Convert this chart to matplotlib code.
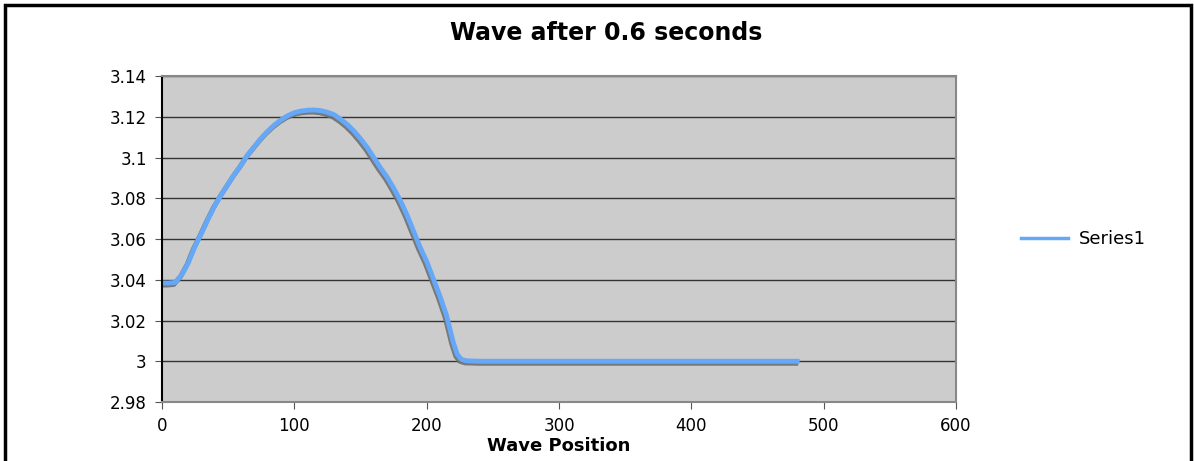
import matplotlib
matplotlib.use("Agg")
import matplotlib.pyplot as plt
import matplotlib.patheffects as pe
from matplotlib.patches import Rectangle

# Data
positions = [0, 5, 10, 15, 20, 25, 30, 35, 40, 45, 50, 55, 60, 65, 70, 75, 80, 85, 90, 95,
             100, 105, 110, 115, 120, 125, 130, 135, 140, 145, 150, 155, 160, 165, 170, 175,
             180, 185, 190, 195, 200, 205, 210, 215, 220, 223, 226, 230, 240, 300, 360, 420, 480]
values = [3.0384, 3.0384, 3.0387, 3.0425, 3.0485, 3.0565, 3.0630, 3.0700, 3.0765, 3.0820,
          3.0870, 3.0920, 3.0965, 3.1015, 3.1055, 3.1095, 3.1130, 3.1160, 3.1185, 3.1205,
          3.1220, 3.1228, 3.1232, 3.1233, 3.1230, 3.1222, 3.1210, 3.1188, 3.1162, 3.1130,
          3.1092, 3.1050, 3.1000, 3.0950, 3.0905, 3.0850, 3.0790, 3.0720, 3.0640, 3.0560,
          3.0490, 3.0405, 3.0320, 3.0225, 3.0095, 3.0035, 3.0010, 3.0002, 3.0, 3.0, 3.0, 3.0, 3.0]
series_name = "Series1"
title = "Wave after 0.6 seconds"
x_label = "Wave Position"
x_ticks = [0, 100, 200, 300, 400, 500, 600]
y_ticks = [2.98, 3.0, 3.02, 3.04, 3.06, 3.08, 3.1, 3.12, 3.14]
y_tick_labels = ["2.98", "3", "3.02", "3.04", "3.06", "3.08", "3.1", "3.12", "3.14"]

plt.rcParams['font.family'] = ['DejaVu Sans']

fig = plt.figure(figsize=(11.94, 4.61), dpi=100)
ax = fig.add_axes([162/1194, 1-402/461, (956-162)/1194, (402-76)/461])
ax.set_facecolor('#cccccc')

line, = ax.plot(positions, values, color='#66a8f8', lw=3.5, label=series_name,
                path_effects=[pe.SimpleLineShadow(offset=(-1, -1.5), shadow_color='#707070', alpha=0.9),
                              pe.Normal()])

ax.set_xlim(0, 600)
ax.set_ylim(2.98, 3.14)
ax.set_xticks(x_ticks)
ax.set_yticks(y_ticks)
ax.set_yticklabels(y_tick_labels)
ax.grid(axis='y', color='#333333', lw=1)
ax.set_axisbelow(True)
ax.tick_params(labelsize=12, length=5, color='#555555', pad=6)

for s in ['top', 'right']:
    ax.spines[s].set_color('#888888')
    ax.spines[s].set_linewidth(1.5)
ax.spines['left'].set_color('black')
ax.spines['left'].set_linewidth(1.5)
ax.spines['bottom'].set_color('#888888')
ax.spines['bottom'].set_linewidth(1.5)

ax.set_xlabel(x_label, fontsize=13, fontweight='bold', labelpad=1)
fig.text(606/1194, 1-33/461, title, fontsize=17, fontweight='bold', ha='center', va='center')

leg_handle = plt.Line2D([], [], color='#66a8f8', lw=2.5)
fig.legend([leg_handle], [series_name], loc='center left',
           bbox_to_anchor=(1005/1194, 1-239/461), frameon=False, fontsize=13,
           handlelength=2.6, handletextpad=0.6)

fig.add_artist(Rectangle((5/1194, -0.1), (1191-5)/1194, 1.1 - 5/461 + 0.0,
                         transform=fig.transFigure, fill=False, edgecolor='black', lw=2.5))

fig.savefig('out.png', dpi=100)
